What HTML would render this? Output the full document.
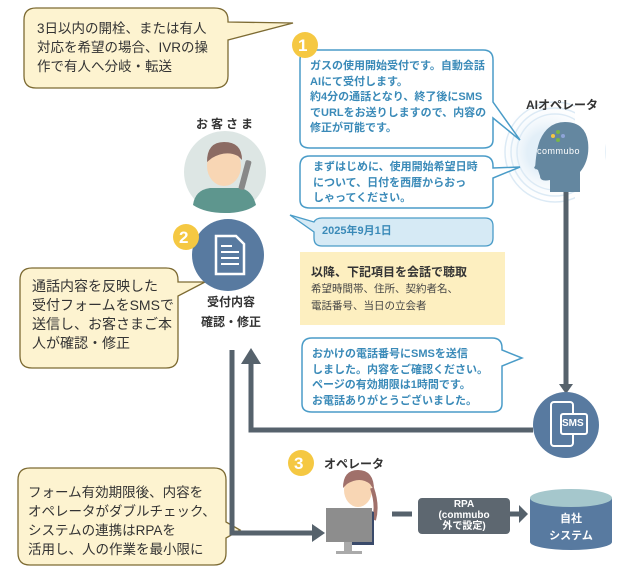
<!DOCTYPE html>
<html><head><meta charset="utf-8"><style>
body{margin:0;width:640px;height:579px;background:#fff;overflow:hidden;font-family:"Liberation Sans","Noto Sans CJK JP",sans-serif}
svg{position:absolute;left:0;top:0}
.t{position:absolute;white-space:nowrap}
.tan{font-size:14px;line-height:19px;color:#333}
.blue{font-size:11px;font-weight:bold;color:#3a8ab8;line-height:15.5px}
</style></head><body>
<svg width="640" height="579" viewBox="0 0 640 579">
<defs><radialGradient id="rg"><stop offset="0.4" stop-color="#e3eff8"/><stop offset="1" stop-color="#fff" stop-opacity="0"/></radialGradient></defs>
<path d="M36 8 H214 Q228 8 228 20 V22 L293 23 L228 40 V76 Q228 88 214 88 H36 Q24 88 24 76 V20 Q24 8 36 8Z" fill="#fdf3d0" stroke="#7d6b33" stroke-width="1.3"/>
<path d="M32 268 H166 Q178 268 178 280 V282 L205 282 L178 296 V356 Q178 368 166 368 H32 Q20 368 20 356 V280 Q20 268 32 268Z" fill="#fdf3d0" stroke="#7d6b33" stroke-width="1.3"/>
<path d="M30 468 H214 Q226 468 226 480 V522 L240 530 L226 538 V553 Q226 565 214 565 H30 Q18 565 18 553 V480 Q18 468 30 468Z" fill="#fdf3d0" stroke="#7d6b33" stroke-width="1.3"/>
<circle cx="548" cy="152" r="52" fill="url(#rg)"/>
<g fill="none" stroke="#dceaf5" stroke-width="1.5"><circle cx="555" cy="152" r="38"/><circle cx="555" cy="152" r="44"/><circle cx="555" cy="152" r="50"/></g>
<rect x="575" y="80" width="30" height="150" fill="#fff"/>
<path d="M310 50 H483 Q493 50 493 60 V102 L520 140 L493 118 V140 Q493 148 483 148 H310 Q300 148 300 140 V60 Q300 50 310 50Z" fill="#fff" stroke="#4a9cc8" stroke-width="1.5"/>
<path d="M310 156 H483 Q493 156 493 166 V168 L520 167 L493 178 V200 Q493 208 483 208 H310 Q300 208 300 200 V166 Q300 156 310 156Z" fill="#fff" stroke="#4a9cc8" stroke-width="1.5"/>
<path d="M322 218 H485 Q493 218 493 226 V238 Q493 246 485 246 H322 Q314 246 314 238 V232 L290 215 L314 222 Q316 218 322 218Z" fill="#d6eaf5" stroke="#4a9cc8" stroke-width="1.3"/>
<rect x="300" y="252" width="205" height="73" fill="#fdefc0"/>
<path d="M312 338 H492 Q502 338 502 348 V350 L522 358 L502 366 V404 Q502 412 492 412 H312 Q302 412 302 404 V348 Q302 338 312 338Z" fill="#fff" stroke="#4a9cc8" stroke-width="1.5"/>
<g stroke="#56626c" stroke-width="5" fill="none">
<path d="M566 178 V384"/>
<path d="M533 430 H251 V362"/>
<path d="M232 350 V533 H314"/>
<path d="M392 514 H412"/><path d="M510 514 H520"/>
</g>
<g fill="#56626c">
<path d="M559 384 H573 L566 394Z"/>
<path d="M241 364 H261 L251 348Z"/>
<path d="M312 524 V542 L325 533Z"/>
<path d="M519 505 V523 L528 514Z"/>
</g>
<path d="M535 170 Q536 150 540 140 Q548 122 565 122 Q585 122 588 142 Q590 160 580 172 V192 H550 V180 Q540 182 540 176 L538 170 L534 168 L540 156 Z" fill="#6487a0"/>
<g><circle cx="558" cy="132" r="2" fill="#7ab648"/><circle cx="553" cy="136" r="2" fill="#f5c842"/><circle cx="563" cy="136" r="2" fill="#8ea4d8"/><circle cx="558" cy="140" r="2" fill="#7ab648"/></g>
<circle cx="225" cy="172" r="41" fill="#dde6e4"/>
<path d="M193 205 Q195 190 210 188 H240 Q252 190 256 205 Q245 213 225 213 Q205 213 193 205Z" fill="#5e968e"/>
<ellipse cx="224" cy="166" rx="17" ry="20" fill="#f8d6b4"/>
<path d="M207 162 Q207 142 224 142 Q242 142 242 160 L238 156 Q226 150 212 158Z" fill="#8b6b63"/>
<rect x="242" y="160" width="6" height="30" rx="2" fill="#888" transform="rotate(15 245 175)"/>
<circle cx="228" cy="255" r="36" fill="#587aa0"/>
<path d="M216 236 H236 L244 244 V274 H216Z" fill="none" stroke="#fff" stroke-width="2.5"/>
<g stroke="#fff" stroke-width="2"><path d="M221 252H239M221 258H239M221 264H239M221 246H232"/></g>
<circle cx="305" cy="45" r="13" fill="#f5c842"/><circle cx="186" cy="237" r="13" fill="#f5c842"/><circle cx="301" cy="463" r="13" fill="#f5c842"/>
<circle cx="566" cy="425" r="33" fill="#587aa0"/>
<rect x="551" y="402" width="22" height="44" rx="3" fill="none" stroke="#fff" stroke-width="2"/>
<rect x="561" y="414" width="26" height="20" rx="2" fill="#587aa0" stroke="#fff" stroke-width="2"/>
<ellipse cx="358" cy="490" rx="14" ry="17" fill="#f8d6b4"/>
<path d="M343 488 Q343 470 358 470 Q374 470 374 490 L370 484 Q360 476 347 484Z" fill="#a0706a"/>
<path d="M372 488 Q378 505 374 520" stroke="#a0706a" stroke-width="4" fill="none"/>
<path d="M344 512 Q358 505 374 512 V545 H344Z" fill="#3a4a6a"/>
<rect x="326" y="508" width="46" height="34" fill="#8d8d8d"/><rect x="344" y="542" width="8" height="10" fill="#aaa"/><rect x="336" y="551" width="26" height="3" fill="#aaa"/>
<rect x="418" y="498" width="92" height="36" rx="4" fill="#5d6770"/>
<path d="M530 498 V542 A41 8 0 0 0 612 542 V498Z" fill="#587aa0"/>
<ellipse cx="571" cy="498" rx="41" ry="9" fill="#a5c7cc"/>
</svg>
<div class="t tan" style="left:37px;top:19px;font-size:13.5px">3日以内の開栓、または有人<br>対応を希望の場合、IVRの操<br>作で有人へ分岐・転送</div>
<div class="t tan" style="left:32px;top:277px">通話内容を反映した<br>受付フォームをSMSで<br>送信し、お客さまご本<br>人が確認・修正</div>
<div class="t tan" style="left:28px;top:483px;font-size:13.5px">フォーム有効期限後、内容を<br>オペレータがダブルチェック、<br>システムの連携はRPAを<br>活用し、人の作業を最小限に</div>
<div class="t" style="left:196px;top:115px;font-size:12px;font-weight:bold;letter-spacing:3px;color:#333">お客さま</div>
<div class="t" style="left:201px;top:292px;font-size:12px;font-weight:bold;color:#333;text-align:center;line-height:20px">受付内容<br>確認・修正</div>
<div class="t" style="left:298px;top:36px;font-size:17px;font-weight:bold;color:#fff">1</div>
<div class="t" style="left:179px;top:228px;font-size:17px;font-weight:bold;color:#fff">2</div>
<div class="t" style="left:294px;top:454px;font-size:17px;font-weight:bold;color:#fff">3</div>
<div class="t blue" style="left:310px;top:59px">ガスの使用開始受付です。自動会話<br>AIにて受付します。<br>約4分の通話となり、終了後にSMS<br>でURLをお送りしますので、内容の<br>修正が可能です。</div>
<div class="t blue" style="left:313px;top:160px">まずはじめに、使用開始希望日時<br>について、日付を西暦からおっ<br>しゃってください。</div>
<div class="t blue" style="left:322px;top:224px">2025年9月1日</div>
<div class="t" style="left:311px;top:263px;font-size:12px;font-weight:bold;color:#333">以降、下記項目を会話で聴取</div>
<div class="t" style="left:311px;top:281px;font-size:10.5px;color:#444;line-height:17px">希望時間帯、住所、契約者名、<br>電話番号、当日の立会者</div>
<div class="t blue" style="left:312px;top:347px">おかけの電話番号にSMSを送信<br>しました。内容をご確認ください。<br>ページの有効期限は1時間です。<br>お電話ありがとうございました。</div>
<div class="t" style="left:526px;top:96px;font-size:12px;font-weight:bold;color:#333">AIオペレータ</div>
<div class="t" style="left:537px;top:146px;font-size:9px;color:#fff;letter-spacing:.5px">commubo</div>
<div class="t" style="left:562px;top:418px;font-size:10px;font-weight:bold;color:#fff">SMS</div>
<div class="t" style="left:324px;top:455px;font-size:12px;font-weight:bold;color:#333">オペレータ</div>
<div class="t" style="left:418px;top:499px;width:92px;text-align:center;font-size:10px;font-weight:bold;color:#fff;line-height:11px">RPA<br>(commubo<br>外で設定)</div>
<div class="t" style="left:530px;top:511px;width:82px;text-align:center;font-size:11px;font-weight:bold;color:#fff;line-height:17px">自社<br>システム</div>
</body></html>
